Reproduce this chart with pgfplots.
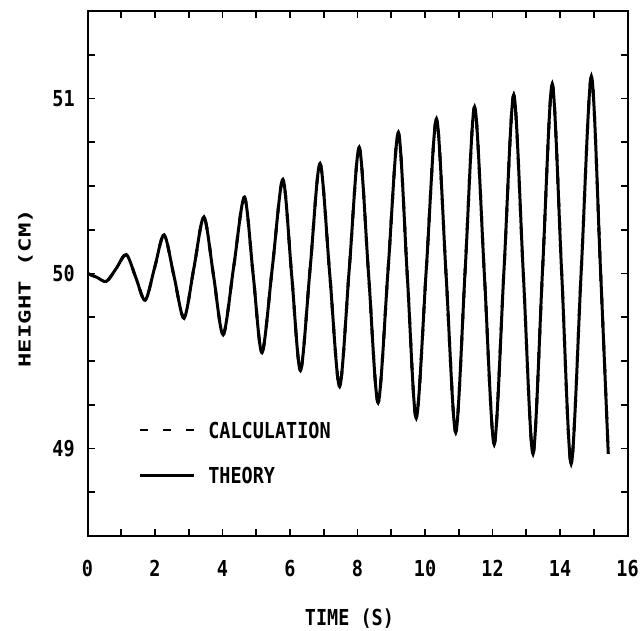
\documentclass[border=0pt]{standalone}
\usepackage{fontspec}
\setmainfont{DejaVu Sans Mono}[FakeStretch=0.84]
\newfontfamily\ylfont{DejaVu Sans Mono}[FakeStretch=1.46]
\usepackage{pgfplots}
\usepackage{pgfplotstable}
\pgfplotsset{compat=1.18}

% height of the free surface (extrema and mid-crossings)
\pgfplotstableread{
t      h
0.00   50.000
0.28   49.978
0.56   49.955
0.855  50.030
1.15   50.108
1.43   49.978
1.71   49.847
1.99   50.034
2.27   50.221
2.565  49.983
2.86   49.745
3.155  50.034
3.45   50.323
3.735  49.987
4.02   49.650
4.335  50.043
4.65   50.436
4.91   49.990
5.17   49.547
5.48   50.040
5.79   50.538
6.05   49.990
6.31   49.445
6.60   50.037
6.89   50.629
7.18   49.990
7.47   49.354
7.76   50.037
8.05   50.720
8.33   49.990
8.61   49.263
8.91   50.034
9.21   50.805
9.475  49.989
9.74   49.173
10.04  50.030
10.34  50.884
10.625 49.990
10.91  49.093
11.19  50.020
11.47  50.952
11.76  49.990
12.05  49.025
12.34  50.020
12.63  51.020
12.915 49.990
13.20  48.969
13.485 50.030
13.77  51.082
14.05  50.000
14.33  48.912
14.63  50.020
14.93  51.127
15.20  50.020
15.43  48.969
}\heightdata

\begin{document}
\begin{tikzpicture}
\begin{axis}[
  scale only axis,
  width=270pt, height=262.5pt,
  xmin=0, xmax=16, ymin=48.5, ymax=51.5,
  xtick={0,2,...,16}, minor xtick={1,3,...,15},
  ytick={49,50,51},
  minor ytick={48.75,49.25,49.5,49.75,50.25,50.5,50.75,51.25},
  tick align=inside,
  major tick length=3.5pt, minor tick length=3.5pt,
  every tick/.style={black, line width=0.9pt},
  axis line style={line width=1pt},
  font=\fontsize{11}{13}\selectfont\bfseries,
  /pgf/number format/assume math mode=true,
  xticklabel style={yshift=-8.5pt},
  yticklabel style={xshift=-2.9pt},
  xlabel={TIME (S)},
  ylabel={\ylfont\fontsize{8.2}{10}\selectfont\bfseries HEIGHT (CM)},
  xlabel style={at={(axis description cs:0.485,-0.158)}, anchor=center},
  ylabel style={at={(axis description cs:-0.115,0.472)}, anchor=center},
  legend image code/.code={\draw[#1] (0pt,0pt) -- (27pt,0pt);},
  legend style={draw=none, fill=none, inner sep=0pt,
    at={(axis description cs:0.0945,0.218)}, anchor=north west,
    nodes={inner sep=0pt, text depth=0pt},
    row sep=14.5pt, column sep=6.5pt},
  legend cell align=left,
]
\addplot[black, line width=1.5pt, smooth, forget plot]
  table[x=t, y=h] {\heightdata};
\addplot[black, line width=1.5pt, smooth, dash pattern=on 4pt off 7.5pt,
  forget plot] table[x=t, y=h] {\heightdata};
\addlegendimage{black, line width=1.2pt, dash pattern=on 4pt off 7.5pt}
\addlegendentry{CALCULATION}
\addlegendimage{black, line width=1.2pt}
\addlegendentry{THEORY}
\end{axis}
\pgfresetboundingbox
\path[use as bounding box] ([shift={(-43.75pt,-47pt)}]current axis.south west)
  rectangle ([shift={(6.25pt,5.5pt)}]current axis.north east);
\end{tikzpicture}
\end{document}
